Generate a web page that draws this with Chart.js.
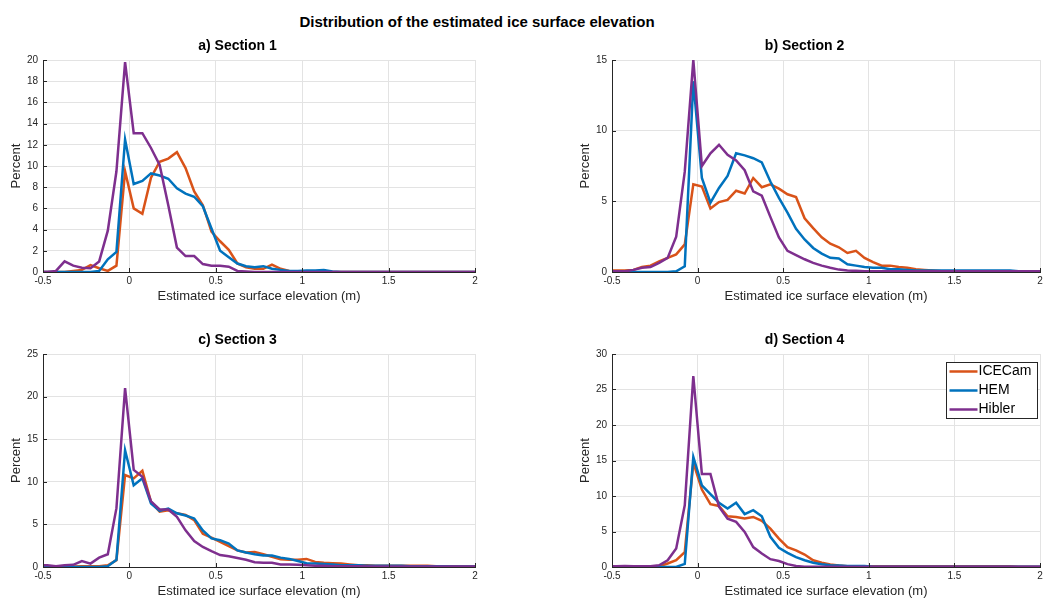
<!DOCTYPE html>
<html>
<head>
<meta charset="utf-8">
<title>Distribution of the estimated ice surface elevation</title>
<script src="https://cdn.jsdelivr.net/npm/chart.js@4.4.0/dist/chart.umd.min.js"></script>
<style>
  html, body { margin: 0; padding: 0; background: #fff; }
  body { width: 1045px; height: 602px; position: relative; overflow: hidden; font-family: 'Liberation Sans', Arial, sans-serif; }
  #suptitle { position: absolute; left: 0; top: 13px; width: 954px; line-height: 18px; text-align: center; font-weight: bold; font-size: 15px; color: #000; }
  .panel { position: absolute; }
</style>
</head>
<body>
<div id="suptitle">Distribution of the estimated ice surface elevation</div>
<canvas id="chartA" class="panel" width="490" height="269" style="left:0px;top:37px"></canvas>
<canvas id="chartB" class="panel" width="476" height="269" style="left:569px;top:37px"></canvas>
<canvas id="chartC" class="panel" width="490" height="270" style="left:0px;top:331px"></canvas>
<canvas id="chartD" class="panel" width="476" height="270" style="left:569px;top:331px"></canvas>
<script>
// bin centres, 0.05 m bins from -0.525 to 2.025
const binCenters = Array.from({ length: 52 }, (_, i) => +(-0.525 + 0.05 * i).toFixed(3));

const xTicks = [-0.5, 0, 0.5, 1, 1.5, 2];
const xTickLabels = ['-0.5', '0', '0.5', '1', '1.5', '2'];
const yTicksA = [0, 2, 4, 6, 8, 10, 12, 14, 16, 18, 20];
const yTicksB = [0, 5, 10, 15];
const yTicksC = [0, 5, 10, 15, 20, 25];
const yTicksD = [0, 5, 10, 15, 20, 25, 30];

const seriesNames = ['ICECam', 'HEM', 'Hibler'];
const seriesColors = ['#D95319', '#0072BD', '#7E2F8E'];

// Section 1 (percent per bin)
const icecam1 = [0, 0, 0, 0, 0.1, 0.2, 0.65, 0.35, 0.1, 0.6, 9.5, 6.0, 5.5, 8.9, 10.4, 10.7, 11.3, 9.8, 7.6, 6.3,
  3.8, 2.9, 2.1, 0.8, 0.45, 0.3, 0.3, 0.7, 0.3, 0.1, 0, 0, 0, 0, 0, 0, 0, 0, 0, 0,
  0, 0, 0, 0, 0, 0, 0, 0, 0, 0, 0, 0];
const hem1 = [0, 0, 0, 0, 0, 0, 0, 0.1, 1.2, 1.9, 12.5, 8.3, 8.6, 9.3, 9.1, 8.8, 7.9, 7.4, 7.1, 6.2,
  4.1, 2.0, 1.4, 0.8, 0.55, 0.45, 0.55, 0.3, 0.2, 0.1, 0.1, 0.15, 0.15, 0.18, 0.05, 0, 0, 0, 0, 0,
  0, 0, 0, 0, 0, 0, 0, 0, 0, 0, 0, 0];
const hibler1 = [0, 0, 0.1, 1.0, 0.6, 0.4, 0.35, 1.0, 3.9, 9.5, 19.8, 13.1, 13.1, 11.7, 10.1, 6.3, 2.3, 1.5, 1.5, 0.75,
  0.6, 0.6, 0.5, 0.1, 0.05, 0, 0, 0, 0, 0, 0, 0, 0, 0, 0, 0, 0, 0, 0, 0,
  0, 0, 0, 0, 0, 0, 0, 0, 0, 0, 0, 0];

// Section 2
const icecam2 = [0.1, 0.1, 0.1, 0.15, 0.35, 0.45, 0.75, 1.0, 1.25, 1.95, 6.2, 6.05, 4.5, 4.95, 5.1, 5.75, 5.55, 6.65, 6.0, 6.2,
  5.9, 5.5, 5.3, 3.8, 3.1, 2.45, 2.0, 1.75, 1.35, 1.5, 1.0, 0.7, 0.45, 0.45, 0.35, 0.3, 0.2, 0.15, 0.1, 0.05,
  0.05, 0.05, 0.05, 0.05, 0.05, 0.05, 0.05, 0.05, 0.05, 0.05, 0.05, 0.05];
const hem2 = [0, 0, 0, 0, 0, 0, 0, 0, 0.05, 0.4, 13.5, 6.65, 4.9, 5.95, 6.8, 8.4, 8.25, 8.05, 7.75, 6.4,
  5.25, 4.2, 3.05, 2.3, 1.7, 1.3, 1.0, 0.95, 0.55, 0.45, 0.35, 0.3, 0.3, 0.2, 0.2, 0.15, 0.1, 0.1, 0.1, 0.1,
  0.1, 0.1, 0.1, 0.1, 0.1, 0.1, 0.1, 0.1, 0.05, 0.05, 0.05, 0.05];
const hibler2 = [0.05, 0.05, 0.05, 0.15, 0.3, 0.35, 0.65, 1.0, 2.5, 7.1, 15.0, 7.5, 8.4, 9.0, 8.3, 7.9, 7.2, 5.7, 5.4, 3.9,
  2.45, 1.5, 1.2, 0.9, 0.65, 0.45, 0.3, 0.17, 0.1, 0.08, 0.05, 0.05, 0.05, 0.05, 0.05, 0.05, 0.05, 0.05, 0.05, 0.05,
  0.05, 0.05, 0.05, 0.05, 0.05, 0.05, 0.05, 0.05, 0.05, 0.05, 0.05, 0.05];

// Section 3
const icecam3 = [0.05, 0.05, 0.05, 0.05, 0.05, 0.1, 0.1, 0.1, 0.2, 0.8, 10.8, 10.4, 11.3, 7.65, 6.5, 6.65, 6.3, 6.1, 5.5, 3.9,
  3.45, 2.95, 2.45, 1.95, 1.7, 1.75, 1.5, 1.2, 0.9, 0.85, 0.85, 0.95, 0.6, 0.5, 0.45, 0.4, 0.3, 0.2, 0.2, 0.15,
  0.15, 0.15, 0.15, 0.15, 0.15, 0.15, 0.1, 0.1, 0.1, 0.05, 0.05, 0.05];
const hem3 = [0, 0, 0, 0, 0, 0, 0, 0, 0.1, 0.85, 13.7, 9.6, 10.4, 7.45, 6.6, 6.85, 6.3, 6.05, 5.7, 4.3,
  3.35, 3.15, 2.75, 1.95, 1.7, 1.5, 1.35, 1.35, 1.1, 0.95, 0.7, 0.45, 0.4, 0.35, 0.3, 0.2, 0.2, 0.2, 0.15, 0.15,
  0.15, 0.15, 0.15, 0.1, 0.1, 0.1, 0.1, 0.1, 0.05, 0.05, 0.05, 0.05];
const hibler3 = [0.2, 0.2, 0.1, 0.2, 0.25, 0.7, 0.4, 1.1, 1.5, 6.9, 21.0, 11.4, 10.6, 7.7, 6.75, 6.75, 5.9, 4.3, 3.05, 2.35,
  1.85, 1.4, 1.25, 1.05, 0.85, 0.55, 0.5, 0.5, 0.3, 0.3, 0.25, 0.2, 0.15, 0.15, 0.1, 0.1, 0.1, 0.1, 0.05, 0.05,
  0.05, 0.05, 0.05, 0.05, 0.05, 0.05, 0.05, 0.05, 0.05, 0.05, 0.05, 0.05];

// Section 4
const icecam4 = [0.1, 0.1, 0.1, 0.1, 0.1, 0.1, 0.1, 0.5, 0.95, 2.1, 14.7, 10.9, 8.85, 8.6, 7.15, 7.05, 6.85, 7.05, 6.5, 5.4,
  4.0, 2.8, 2.35, 1.75, 0.95, 0.6, 0.35, 0.2, 0.1, 0.1, 0.1, 0.1, 0.1, 0.1, 0.1, 0.1, 0.1, 0.1, 0.1, 0.1,
  0.1, 0.1, 0.1, 0.1, 0.1, 0.1, 0.1, 0.1, 0.05, 0.05, 0.05, 0.05];
const hem4 = [0, 0, 0, 0, 0, 0, 0, 0, 0, 0.45, 15.5, 11.5, 10.25, 9.05, 8.25, 9.05, 7.45, 8.0, 7.15, 4.25,
  2.7, 2.0, 1.4, 0.95, 0.6, 0.4, 0.25, 0.2, 0.15, 0.15, 0.15, 0.05, 0.05, 0.05, 0.05, 0.05, 0.05, 0.05, 0.05, 0.05,
  0.05, 0.05, 0.05, 0.05, 0.05, 0.05, 0.05, 0.05, 0.05, 0.05, 0.05, 0.05];
const hibler4 = [0.1, 0.1, 0.15, 0.1, 0.1, 0.1, 0.25, 0.95, 2.6, 8.7, 26.9, 13.1, 13.1, 8.5, 6.8, 6.35, 4.95, 2.8, 1.9, 1.1,
  0.85, 0.4, 0.15, 0.05, 0.05, 0.05, 0.05, 0.05, 0.05, 0.05, 0.05, 0.05, 0.05, 0.05, 0.05, 0.05, 0.05, 0.05, 0.05, 0.05,
  0.05, 0.05, 0.05, 0.05, 0.05, 0.05, 0.05, 0.05, 0.05, 0.05, 0.05, 0.05];

const FONT = "'Liberation Sans', Arial, Helvetica, sans-serif";
const AXIS_COLOR = '#262626';
const GRID_COLOR = '#E3E3E3';

// MATLAB-style inward tick marks on the left and bottom axes
const innerTicks = {
  id: 'innerTicks',
  afterDatasetsDraw(chart) {
    const { ctx, chartArea, scales } = chart;
    ctx.save();
    ctx.strokeStyle = AXIS_COLOR;
    ctx.lineWidth = 1;
    ctx.beginPath();
    scales.x.ticks.forEach(t => {
      const px = Math.round(scales.x.getPixelForValue(t.value)) + 0.5;
      ctx.moveTo(px, chartArea.bottom);
      ctx.lineTo(px, chartArea.bottom - 4);
    });
    scales.y.ticks.forEach(t => {
      const py = Math.round(scales.y.getPixelForValue(t.value)) + 0.5;
      ctx.moveTo(chartArea.left, py);
      ctx.lineTo(chartArea.left + 4, py);
    });
    ctx.stroke();
    ctx.restore();
  }
};

// legend box in the upper right corner of the plot area
const insideLegend = {
  id: 'insideLegend',
  afterDraw(chart, args, opts) {
    if (!opts.display) return;
    const { ctx, chartArea } = chart;
    const w = 91, h = 56;
    const x0 = Math.round(chartArea.right - 3 - w) + 0.5;
    const y0 = Math.round(chartArea.top + 8) + 0.5;
    ctx.save();
    ctx.fillStyle = '#fff';
    ctx.fillRect(x0, y0, w, h);
    ctx.strokeStyle = AXIS_COLOR;
    ctx.lineWidth = 1;
    ctx.strokeRect(x0, y0, w, h);
    ctx.font = '14px ' + FONT;
    ctx.textBaseline = 'middle';
    chart.data.datasets.forEach((ds, i) => {
      const y = y0 + 9 + i * 19;
      ctx.strokeStyle = ds.borderColor;
      ctx.lineWidth = 2.5;
      ctx.beginPath();
      ctx.moveTo(x0 + 3, y);
      ctx.lineTo(x0 + 31, y);
      ctx.stroke();
      ctx.fillStyle = '#000';
      ctx.fillText(ds.label, x0 + 32, y);
    });
    ctx.restore();
  }
};

const makeChart = (id, title, yTicks, values, showLegend) => {
  const ctx = document.getElementById(id).getContext('2d');
  return new Chart(ctx, {
    type: 'line',
    data: {
      datasets: values.map((vals, i) => ({
        label: seriesNames[i],
        data: binCenters.map((x, k) => ({ x, y: vals[k] })),
        borderColor: seriesColors[i],
        backgroundColor: seriesColors[i],
        borderWidth: 2.5,
        pointRadius: 0,
        tension: 0,
        order: 3 - i,
      })),
    },
    options: {
      responsive: false,
      animation: false,
      layout: { padding: { left: 0, right: id === 'chartA' || id === 'chartC' ? 15 : 5, top: 0, bottom: 0 } },
      plugins: {
        legend: { display: false },
        tooltip: { enabled: false },
        title: {
          display: true,
          text: title,
          color: '#000',
          font: { family: FONT, size: 14, weight: 'bold' },
          padding: { top: 1, bottom: 5.2 },
        },
        insideLegend: { display: showLegend },
      },
      scales: {
        x: {
          type: 'linear',
          min: -0.5,
          max: 2,
          afterBuildTicks: (scale) => { scale.ticks = xTicks.map(v => ({ value: v })); },
          afterFit: (scale) => { scale.height = 34; scale.paddingLeft = 0; scale.paddingRight = 0; },
          grid: { color: GRID_COLOR, drawTicks: false },
          border: { display: true, color: AXIS_COLOR, width: 1 },
          ticks: {
            color: AXIS_COLOR,
            font: { family: FONT, size: 10 },
            padding: 3,
            maxRotation: 0,
            autoSkip: false,
            callback: (value) => xTickLabels[xTicks.indexOf(value)],
          },
          title: {
            display: true,
            text: 'Estimated ice surface elevation (m)',
            color: AXIS_COLOR,
            font: { family: FONT, size: 13 },
            padding: { top: 0, bottom: 2 },
          },
        },
        y: {
          min: yTicks[0],
          max: yTicks[yTicks.length - 1],
          afterBuildTicks: (scale) => { scale.ticks = yTicks.map(v => ({ value: v })); },
          afterFit: (scale) => { scale.width = 43; scale.paddingTop = 0; scale.paddingBottom = 0; },
          grid: { color: GRID_COLOR, drawTicks: false },
          border: { display: true, color: AXIS_COLOR, width: 1 },
          ticks: { color: AXIS_COLOR, font: { family: FONT, size: 10 }, padding: 5, callback: (value) => String(value) },
          title: {
            display: true,
            text: 'Percent',
            color: AXIS_COLOR,
            font: { family: FONT, size: 13 },
            padding: { top: 9, bottom: 0 },
          },
        },
      },
    },
    plugins: [innerTicks, insideLegend],
  });
};

makeChart('chartA', 'a) Section 1', yTicksA, [icecam1, hem1, hibler1], false);
makeChart('chartB', 'b) Section 2', yTicksB, [icecam2, hem2, hibler2], false);
makeChart('chartC', 'c) Section 3', yTicksC, [icecam3, hem3, hibler3], false);
makeChart('chartD', 'd) Section 4', yTicksD, [icecam4, hem4, hibler4], true);
</script>
</body>
</html>
